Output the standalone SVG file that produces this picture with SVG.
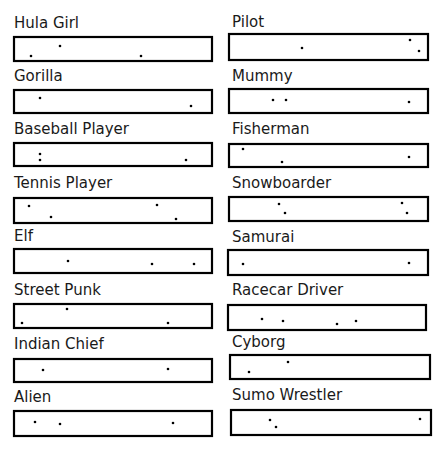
<svg xmlns="http://www.w3.org/2000/svg" width="440" height="450" viewBox="0 0 440 450">
<style>
.bg{fill:#ffffff}
.lbl{font-family:"DejaVu Sans",sans-serif;font-size:15px;fill:#1a1a1a}
.box{fill:#ffffff;stroke:#000000;stroke-width:2.2}
.dot{fill:#000000}
</style>
<defs><circle id="d" r="1.3" class="dot"/></defs>
<rect class="bg" x="0" y="0" width="440" height="450"/>
<g id="hula-girl"><text class="lbl" x="14" y="28">Hula Girl</text><rect class="box" x="14" y="37" width="198" height="24"/><use href="#d" x="31" y="56"/><use href="#d" x="60" y="46"/><use href="#d" x="141" y="56"/></g>
<g id="gorilla"><text class="lbl" x="14" y="81">Gorilla</text><rect class="box" x="14" y="90" width="198" height="23"/><use href="#d" x="40" y="98"/><use href="#d" x="191" y="106"/></g>
<g id="baseball-player"><text class="lbl" x="14" y="134">Baseball Player</text><rect class="box" x="14" y="143" width="198" height="23"/><use href="#d" x="40" y="154"/><use href="#d" x="40" y="160"/><use href="#d" x="186" y="160"/></g>
<g id="tennis-player"><text class="lbl" x="14" y="188">Tennis Player</text><rect class="box" x="14" y="198" width="198" height="25"/><use href="#d" x="29" y="206"/><use href="#d" x="51" y="217"/><use href="#d" x="157" y="205"/><use href="#d" x="176" y="219"/></g>
<g id="elf"><text class="lbl" x="14" y="241">Elf</text><rect class="box" x="14" y="249" width="198" height="24"/><use href="#d" x="68" y="261"/><use href="#d" x="152" y="264"/><use href="#d" x="194" y="264"/></g>
<g id="street-punk"><text class="lbl" x="14" y="295">Street Punk</text><rect class="box" x="14" y="304" width="198" height="24"/><use href="#d" x="67" y="309"/><use href="#d" x="22" y="323"/><use href="#d" x="168" y="323"/></g>
<g id="indian-chief"><text class="lbl" x="14" y="349">Indian Chief</text><rect class="box" x="14" y="359" width="198" height="23"/><use href="#d" x="43" y="370"/><use href="#d" x="168" y="369"/></g>
<g id="alien"><text class="lbl" x="14" y="402">Alien</text><rect class="box" x="14" y="411" width="198" height="25"/><use href="#d" x="35" y="422"/><use href="#d" x="60" y="424"/><use href="#d" x="173" y="423"/></g>
<g id="pilot"><text class="lbl" x="232" y="27">Pilot</text><rect class="box" x="229" y="34" width="199" height="26"/><use href="#d" x="302" y="48"/><use href="#d" x="410" y="40"/><use href="#d" x="419" y="51"/></g>
<g id="mummy"><text class="lbl" x="232" y="81">Mummy</text><rect class="box" x="229" y="89" width="199" height="24"/><use href="#d" x="273" y="100"/><use href="#d" x="286" y="100"/><use href="#d" x="409" y="102"/></g>
<g id="fisherman"><text class="lbl" x="232" y="134">Fisherman</text><rect class="box" x="229" y="144" width="199" height="23"/><use href="#d" x="243" y="149"/><use href="#d" x="282" y="162"/><use href="#d" x="409" y="157"/></g>
<g id="snowboarder"><text class="lbl" x="232" y="188">Snowboarder</text><rect class="box" x="229" y="197" width="199" height="24"/><use href="#d" x="279" y="204"/><use href="#d" x="285" y="213"/><use href="#d" x="402" y="203"/><use href="#d" x="407" y="213"/></g>
<g id="samurai"><text class="lbl" x="232" y="242">Samurai</text><rect class="box" x="228" y="250" width="200" height="25"/><use href="#d" x="243" y="264"/><use href="#d" x="409" y="263"/></g>
<g id="racecar-driver"><text class="lbl" x="232" y="295">Racecar Driver</text><rect class="box" x="228" y="305" width="198" height="25"/><use href="#d" x="262" y="319"/><use href="#d" x="283" y="321"/><use href="#d" x="337" y="324"/><use href="#d" x="356" y="321"/></g>
<g id="cyborg"><text class="lbl" x="232" y="347">Cyborg</text><rect class="box" x="230" y="355" width="200" height="24"/><use href="#d" x="288" y="362"/><use href="#d" x="249" y="372"/></g>
<g id="sumo-wrestler"><text class="lbl" x="232" y="400">Sumo Wrestler</text><rect class="box" x="231" y="410" width="200" height="25"/><use href="#d" x="270" y="420"/><use href="#d" x="276" y="427"/><use href="#d" x="420" y="419"/></g>
<g id="connectors"></g>
</svg>
